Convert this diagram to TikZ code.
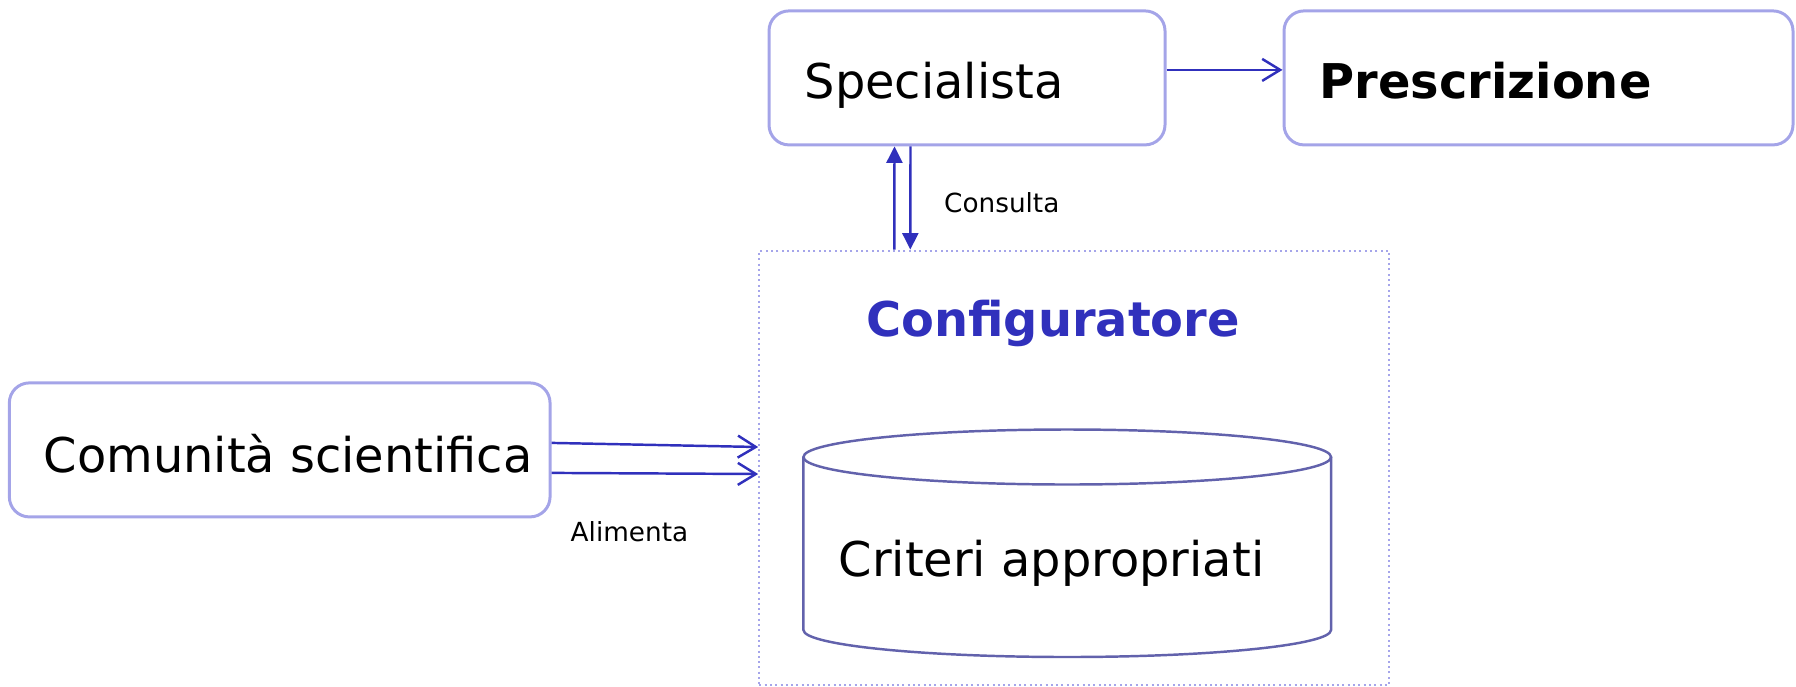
\documentclass[tikz,border=0pt]{standalone}
\usepackage{fontspec}
\setmainfont{DejaVu Sans}
\usetikzlibrary{arrows.meta}
\definecolor{boxline}{RGB}{164,164,232}
\definecolor{dotline}{RGB}{165,165,234}
\definecolor{arrowblue}{RGB}{48,48,188}
\definecolor{cylline}{RGB}{98,98,172}
\tikzset{
	box/.style={draw=boxline, line width=0.85pt, rounded corners=0.2cm, inner sep=0pt, minimum height=1.34cm},
	lbl/.style={font=\fontsize{13.62}{16}\selectfont, inner sep=0pt, anchor=base west},
	title/.style={font=\fontsize{13.62}{16}\selectfont\bfseries, inner sep=0pt, anchor=base},
	small/.style={font=\fontsize{7.48}{9}\selectfont, inner sep=0pt, anchor=base west},
	feed/.style={draw=arrowblue, line width=0.7pt, -{Straight Barb[length=1.8mm,width=2.2mm]}},
	ask/.style={draw=arrowblue, line width=0.7pt, -{Triangle[length=1.65mm,width=1.6mm]}},
}
\begin{document}
\begin{tikzpicture}
	\useasboundingbox (0,0) rectangle (17.96,6.86);
	
	\node[box, minimum width=3.96cm] (spec) at (9.67,6.081) {};
	\node[box, minimum width=5.09cm] (presc) at (15.385,6.081) {};
	\node[box, minimum width=5.407cm] (comm) at (2.797,2.361) {};
	\node[draw=dotline, line width=0.65pt, dash pattern=on 0.02cm off 0.033cm, inner sep=0pt, minimum width=6.3cm, minimum height=4.34cm] (cfg) at (10.743,2.183) {};
	
	% database
	\draw[cylline, line width=0.7pt] (8.034,2.29) -- (8.034,0.56) arc[start angle=180, end angle=360, x radius=2.638, y radius=0.27] -- (13.31,2.29);
	\draw[cylline, line width=0.7pt] (10.672,2.29) ellipse [x radius=2.638, y radius=0.275];
	
	% testi
	\node[lbl] (specL) at (8.04,5.88) {Specialista};
	\node[lbl, font=\fontsize{13.62}{16}\selectfont\bfseries] (prescL) at (13.19,5.88) {Prescrizione};
	\node[lbl] (commL) at (0.43,2.14) {Comunità scientifica};
	\node[lbl] (critL) at (8.38,1.10) {Criteri appropriati};
	\node[title, text=arrowblue] (cfgL) at (10.53,3.50) {Configuratore};
	\node[small] (consL) at (9.435,4.74) {Consulta};
	\node[small] (alimL) at (5.70,1.443) {Alimenta};
	
	% frecce
	\draw[feed] ([yshift=0.08cm]spec.east) -- ([yshift=0.08cm]presc.west);
	\draw[ask] ([xshift=-1.8cm]cfg.north) -- ([xshift=-0.725cm]spec.south);
	\draw[ask] ([xshift=-0.565cm]spec.south) -- ([xshift=-1.64cm]cfg.north);
	\draw[feed] ([yshift=0.07cm]comm.east) -- ([yshift=0.207cm]cfg.west);
	\draw[feed] ([yshift=-0.23cm]comm.east) -- ([yshift=-0.063cm]cfg.west);
\end{tikzpicture}
\end{document}
